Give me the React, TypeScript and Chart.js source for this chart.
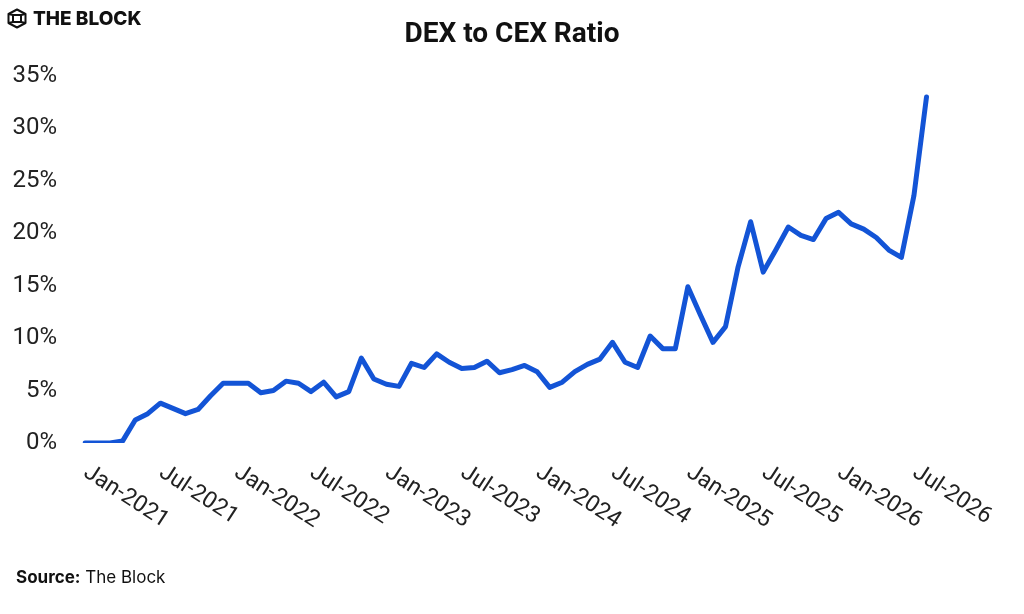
import React, { useEffect, useRef } from "react";
import { Chart, registerables } from "chart.js";

Chart.register(...registerables);

// ---- data ----
const startYear = 2021;
const monthNames = ["Jan", "Feb", "Mar", "Apr", "May", "Jun", "Jul", "Aug", "Sep", "Oct", "Nov", "Dec"];

const ratioValues = [
  0, 0, 0, 0.2, 2.2, 2.8, 3.8, 3.3, 2.8, 3.2, 4.5, 5.7,
  5.7, 5.7, 4.8, 5.0, 5.9, 5.7, 4.9, 5.8, 4.4, 4.9, 8.1, 6.1,
  5.6, 5.4, 7.6, 7.2, 8.5, 7.7, 7.1, 7.2, 7.8, 6.7, 7.0, 7.4,
  6.8, 5.3, 5.8, 6.8, 7.5, 8.0, 9.6, 7.7, 7.2, 10.2, 9.0, 9.0,
  14.9, 12.2, 9.6, 11.1, 16.8, 21.1, 16.3, 18.4, 20.6, 19.8, 19.4, 21.4,
  22.0, 20.9, 20.4, 19.6, 18.4, 17.7, 23.6, 33.0,
];

const categories = ratioValues.map((_, i) => {
  const m = i % 12;
  const y = startYear + Math.floor(i / 12);
  return `${monthNames[m]}-${y}`;
});

const xTickLabels = [
  "Jan-2021", "Jul-2021", "Jan-2022", "Jul-2022", "Jan-2023", "Jul-2023",
  "Jan-2024", "Jul-2024", "Jan-2025", "Jul-2025", "Jan-2026", "Jul-2026",
];

const yTickValues = [0, 5, 10, 15, 20, 25, 30, 35];

const LINE_COLOR = "#1354d6";
const TEXT_COLOR = "#222222";

const xLabelPlugin = {
  id: "xRotatedLabels",
  afterDraw(chart: any) {
    const { ctx, chartArea } = chart;
    const xs = chart.scales.x;
    ctx.save();
    ctx.font = "23px Roboto";
    ctx.fillStyle = TEXT_COLOR;
    ctx.textAlign = "left";
    ctx.textBaseline = "top";
    xTickLabels.forEach((lbl) => {
      const idx = categories.indexOf(lbl);
      if (idx < 0) return;
      const px = xs.getPixelForValue(idx);
      ctx.save();
      ctx.translate(px + 7, chartArea.bottom + 18);
      ctx.rotate((33 * Math.PI) / 180);
      ctx.fillText(lbl, 0, 0);
      ctx.restore();
    });
    ctx.restore();
  },
};

function LogoIcon() {
  return (
    <svg
      width="20"
      height="21"
      viewBox="0 0 20 21"
      style={{ position: "absolute", left: 7, top: 8 }}
    >
      <g fill="none" stroke="#111" strokeWidth="2" strokeLinejoin="round">
        <polygon points="10,1.5 18.5,6 18.5,15 10,19.5 1.5,15 1.5,6" />
        <rect x="6" y="7" width="8" height="7" />
        <line x1="1.5" y1="6" x2="6" y2="7" />
        <line x1="18.5" y1="6" x2="14" y2="7" />
        <line x1="1.5" y1="15" x2="6" y2="14" />
        <line x1="18.5" y1="15" x2="14" y2="14" />
      </g>
    </svg>
  );
}

export default function App() {
  const canvasRef = useRef<HTMLCanvasElement | null>(null);

  useEffect(() => {
    const canvas = canvasRef.current;
    if (!canvas) return;
    const chart = new Chart(canvas, {
      type: "line",
      data: {
        labels: categories,
        datasets: [
          {
            data: ratioValues,
            borderColor: LINE_COLOR,
            backgroundColor: LINE_COLOR,
            borderWidth: 5,
            pointRadius: 0,
            pointHoverRadius: 0,
            tension: 0,
            borderJoinStyle: "round",
            borderCapStyle: "round",
            fill: false,
          },
        ],
      },
      options: {
        responsive: false,
        animation: false,
        events: [],
        layout: {
          padding: { left: 0, right: 97.5, top: 76, bottom: 171 },
        },
        plugins: {
          legend: { display: false },
          title: { display: false },
          tooltip: { enabled: false },
        },
        scales: {
          x: {
            type: "category",
            display: false,
            offset: false,
          },
          y: {
            min: 0,
            max: 35,
            grid: { display: false, drawTicks: false },
            border: { display: false },
            afterFit(scale: any) {
              scale.width = 85;
            },
            afterBuildTicks(scale: any) {
              scale.ticks = yTickValues.map((v) => ({ value: v }));
            },
            ticks: {
              padding: 28,
              color: TEXT_COLOR,
              font: { family: "Roboto", size: 24 },
              callback: (v: any) => `${v}%`,
            },
          },
        },
      },
      plugins: [xLabelPlugin],
    });
    return () => chart.destroy();
  }, []);

  return (
    <div
      style={{
        position: "absolute",
        left: 0,
        top: 0,
        width: 1024,
        height: 614,
        background: "#ffffff",
        overflow: "hidden",
      }}
    >
      <canvas
        ref={canvasRef}
        width={1024}
        height={614}
        style={{ position: "absolute", left: 0, top: 0, width: 1024, height: 614 }}
      />
      <LogoIcon />
      <div
        style={{
          position: "absolute",
          left: 33,
          top: 9,
          fontFamily: "Inter",
          fontWeight: 800,
          fontSize: 19,
          lineHeight: "19px",
          color: "#111",
          letterSpacing: 0,
          whiteSpace: "nowrap",
        }}
      >
        THE BLOCK
      </div>
      <div
        style={{
          position: "absolute",
          left: 0,
          width: 1024,
          top: 19,
          textAlign: "center",
          fontFamily: "Roboto",
          fontWeight: 700,
          fontSize: 28,
          lineHeight: "28px",
          color: "#111",
          whiteSpace: "nowrap",
        }}
      >
        DEX to CEX Ratio
      </div>
      <div
        style={{
          position: "absolute",
          left: 16,
          top: 569,
          fontFamily: "Inter",
          fontSize: 17,
          lineHeight: "17px",
          color: "#111",
          whiteSpace: "nowrap",
        }}
      >
        <span style={{ fontWeight: 700 }}>Source:</span> The Block
      </div>
    </div>
  );
}
